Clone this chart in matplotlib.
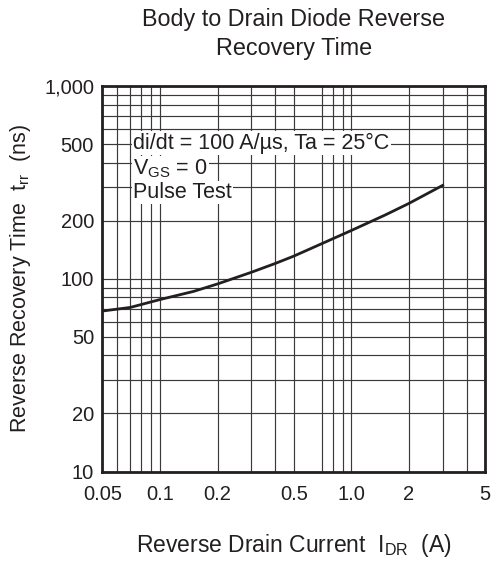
import matplotlib
matplotlib.use("Agg")
import matplotlib.pyplot as plt
from matplotlib.ticker import FixedLocator, NullFormatter

plt.rcParams["font.family"] = ["Liberation Sans", "DejaVu Sans"]
plt.rcParams["mathtext.fontset"] = "custom"
plt.rcParams["mathtext.rm"] = "Liberation Sans"
plt.rcParams["mathtext.it"] = "Liberation Sans:italic"

INK = "#231f20"

# curve
current_a = [0.05, 0.07, 0.1, 0.15, 0.2, 0.3, 0.4, 0.5, 0.7, 1.0, 1.5,
             2.0, 3.0]
trr_ns = [68, 71, 78, 86, 94, 108, 120, 131, 152, 178, 214, 246, 305]

x_ticks = [0.05, 0.1, 0.2, 0.5, 1.0, 2, 5]
x_labels = ["0.05", "0.1", "0.2", "0.5", "1.0", "2", "5"]
y_ticks = [10, 20, 50, 100, 200, 500, 1000]
y_labels = ["10", "20", "50", "100", "200", "500", "1,000"]

# grid lines as drawn on the sheet (note: no line at 0.6)
x_grid = [0.06, 0.07, 0.08, 0.09, 0.1, 0.2, 0.3, 0.4, 0.5, 0.7, 0.8, 0.9,
          1.0, 2, 3, 4]
y_grid = [20, 30, 40, 50, 60, 70, 80, 90, 200, 300, 400, 500, 600, 700,
          800, 900]

notes = ["di/dt = 100 A/\u00b5s, Ta = 25\u00b0C",
         r"V$_{\mathregular{GS}}$ = 0",
         "Pulse Test"]

fig = plt.figure(figsize=(4.92, 5.62), dpi=100)
ax = fig.add_axes([0.208, 0.161, 0.778, 0.686])

ax.set_xscale("log")
ax.set_yscale("log")
ax.set_xlim(0.05, 5)
ax.set_ylim(10, 1000)

ax.xaxis.set_major_locator(FixedLocator(x_ticks))
ax.set_xticklabels(x_labels)
ax.yaxis.set_major_locator(FixedLocator(y_ticks))
ax.set_yticklabels(y_labels)
ax.xaxis.set_minor_locator(FixedLocator(x_grid))
ax.yaxis.set_minor_locator(FixedLocator(y_grid))
ax.xaxis.set_minor_formatter(NullFormatter())
ax.yaxis.set_minor_formatter(NullFormatter())

ax.grid(which="both", color="#3a3a3a", linewidth=0.85)
ax.tick_params(which="both", length=0, labelsize=14.5, colors=INK)
ax.tick_params(axis="x", pad=10)
ax.tick_params(axis="y", pad=6)

for sp in ax.spines.values():
    sp.set_linewidth(2.0)
    sp.set_color(INK)

ax.plot(current_a, trr_ns, color=INK, linewidth=2.0, zorder=3,
        solid_joinstyle="round")

for text, yy in zip(notes, [0.837, 0.771, 0.709]):
    ax.text(0.081, yy, text, transform=ax.transAxes, fontsize=15.5,
            color=INK, va="baseline", ha="left", zorder=4,
            bbox=dict(fc="white", ec="none", pad=1.0))

ax.set_xlabel(r"Reverse Drain Current  I$_{\mathregular{DR}}$  (A)",
              fontsize=16.5, color=INK, labelpad=20)
ax.set_ylabel(r"Reverse Recovery Time  t$_{\mathregular{rr}}$  (ns)",
              fontsize=15.5, color=INK, labelpad=8)

fig.text(0.597, 1 - 26 / 562, "Body to Drain Diode Reverse", fontsize=16.8,
         color=INK, ha="center", va="baseline")
fig.text(0.597, 1 - 55 / 562, "Recovery Time", fontsize=16.8,
         color=INK, ha="center", va="baseline")

fig.savefig("out.png", dpi=100)
